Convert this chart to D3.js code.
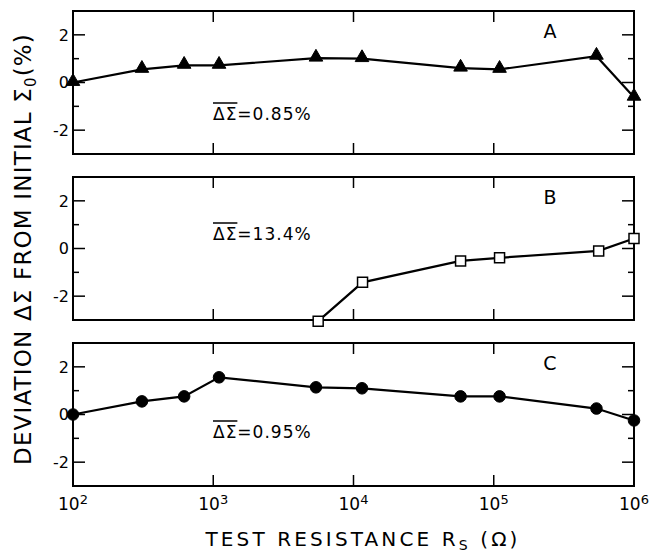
<!DOCTYPE html>
<html>
<head>
<meta charset="utf-8">
<script src="https://cdn.jsdelivr.net/npm/d3@7"></script>
<style>
  body { margin: 0; background: #fff; }
  text { font-family: "DejaVu Sans", sans-serif; fill: #000; }
</style>
</head>
<body>
<script>
// resistance values (ohm) for each measurement
var resistance = [100, 310, 620, 1100, 5400, 11500, 58000, 110000, 540000, 1000000];
var resistanceB = [5600, 11600, 58000, 110000, 560000, 1000000];

// deviation (%) per panel
var devA = [0.0, 0.55, 0.72, 0.72, 1.02, 1.0, 0.6, 0.55, 1.1, -0.62];
var devB = [-3.05, -1.42, -0.52, -0.39, -0.1, 0.42];
var devC = [0.0, 0.55, 0.76, 1.56, 1.14, 1.1, 0.76, 0.76, 0.25, -0.25];

var panelNames = ["A", "B", "C"];
var meanDev = ["0.85%", "13.4%", "0.95%"];
var xTickExp = [2, 3, 4, 5, 6];
var yMajor = [-2, 0, 2];
var yMinor = [-1, 1];

// stretch a text to a given width with letter-spacing
function spreadTo(sel, width)
{
    var n = sel.node();
    var len = n.getComputedTextLength();
    var chars = n.textContent.length;
    sel.style("letter-spacing", ((width - len) / chars) + "px");
}

function init()
{
    var w = 650;
    var h = 553;
    var left = 73, right = 634;
    var panelTops = [11, 177, 343];
    var panelH = 143;

    var svg = d3.select("body")
                .append("svg")
                .attr("width", w)
                .attr("height", h);

    var x = d3.scaleLog()
              .domain([1e2, 1e6])
              .range([left, right]);

    var panels = [
        { xs: resistance, ys: devA, mark: "tri" },
        { xs: resistanceB, ys: devB, mark: "sq" },
        { xs: resistance, ys: devC, mark: "dot" }
    ];

    panels.forEach(function(p, i) {
        var top = panelTops[i];
        var y = d3.scaleLinear()
                  .domain([-3, 3])
                  .range([top + panelH, top]);
        var g = svg.append("g");

        // frame
        g.append("rect")
         .attr("x", left).attr("y", top)
         .attr("width", right - left).attr("height", panelH)
         .attr("fill", "none").attr("stroke", "#000").attr("stroke-width", 2);

        // y ticks, both sides pointing in
        var tk = g.append("g").attr("stroke", "#000").attr("stroke-width", 1.5);
        yMajor.concat(yMinor).forEach(function(v) {
            var len = yMajor.indexOf(v) >= 0 ? 12 : 6;
            tk.append("line").attr("x1", left).attr("x2", left + len)
              .attr("y1", y(v)).attr("y2", y(v));
            tk.append("line").attr("x1", right).attr("x2", right - len)
              .attr("y1", y(v)).attr("y2", y(v));
        });
        // x ticks top and bottom
        xTickExp.slice(1, -1).forEach(function(e) {
            var xv = x(Math.pow(10, e));
            tk.append("line").attr("x1", xv).attr("x2", xv)
              .attr("y1", top).attr("y2", top + 11);
            tk.append("line").attr("x1", xv).attr("x2", xv)
              .attr("y1", top + panelH).attr("y2", top + panelH - 11);
        });

        g.selectAll(".ylab")
         .data(yMajor)
         .enter()
         .append("text")
         .attr("x", left - 4)
         .attr("y", function(d) { return y(d); })
         .attr("dy", "0.36em")
         .attr("text-anchor", "end")
         .style("font-size", "16px")
         .text(function(d) { return d; });

        // line + markers
        var line = d3.line()
                     .x(function(d) { return x(d[0]); })
                     .y(function(d) { return y(d[1]); });
        var pts = p.xs.map(function(v, k) { return [v, p.ys[k]]; });

        g.append("path")
         .attr("d", line(pts))
         .attr("fill", "none")
         .attr("stroke", "#000")
         .attr("stroke-width", 2.2);

        var sym = p.mark == "tri" ? d3.symbol().type(d3.symbolTriangle).size(80)
                : p.mark == "sq" ? d3.symbol().type(d3.symbolSquare).size(100)
                : d3.symbol().type(d3.symbolCircle).size(105);

        g.selectAll(".pt")
         .data(pts)
         .enter()
         .append("path")
         .attr("d", sym)
         .attr("transform", function(d) {
            var dy = p.mark == "tri" ? -1 : 0;
            return "translate(" + x(d[0]) + "," + (y(d[1]) + dy) + ")";
         })
         .attr("fill", p.mark == "sq" ? "#fff" : "#000")
         .attr("stroke", "#000")
         .attr("stroke-width", p.mark == "sq" ? 1.5 : 1);

        // panel letter
        g.append("text")
         .attr("x", 550).attr("y", top + 27)
         .attr("text-anchor", "middle")
         .style("font-size", "19px")
         .text(panelNames[i]);

        // mean deviation note
        var noteY = [120, 240, 438][i];
        var note = g.append("text")
                    .attr("x", 213).attr("y", noteY)
                    .style("font-size", "17px")
                    .style("letter-spacing", "1px")
                    .text("\u0394\u03A3=" + meanDev[i]);
        var barW = note.node().getSubStringLength(0, 2);
        g.append("line")
         .attr("x1", 213).attr("x2", 213 + barW)
         .attr("y1", noteY - 17).attr("y2", noteY - 17)
         .attr("stroke", "#000").attr("stroke-width", 1.5);
    });

    // x tick labels below bottom panel
    var xl = svg.selectAll(".xlab")
                .data(xTickExp)
                .enter()
                .append("text")
                .attr("x", function(d) { return x(Math.pow(10, d)); })
                .attr("y", 510)
                .attr("text-anchor", "middle")
                .style("font-size", "17px");
    xl.append("tspan").text("10");
    xl.append("tspan")
      .attr("dy", "-0.45em")
      .style("font-size", "13px")
      .text(function(d) { return d; });

    // axis titles
    var xt = svg.append("text")
                .attr("x", 363).attr("y", 546)
                .attr("text-anchor", "middle")
                .style("font-size", "20px");
    xt.append("tspan").text("TEST RESISTANCE R");
    xt.append("tspan").attr("dy", 4).style("font-size", "14px").text("S");
    xt.append("tspan").attr("dy", -4).text(" (\u03A9)");
    spreadTo(xt, 315);

    var yt = svg.append("text")
                .attr("transform", "translate(31,249) rotate(-90)")
                .attr("text-anchor", "middle")
                .style("font-size", "23px");
    yt.append("tspan").text("DEVIATION \u0394\u03A3 FROM INITIAL \u03A3");
    yt.append("tspan").attr("dy", 5).style("font-size", "15px").text("0");
    yt.append("tspan").attr("dy", -5).text("(%)");
    spreadTo(yt, 432);
}
window.onload = init;
</script>
</body>
</html>
